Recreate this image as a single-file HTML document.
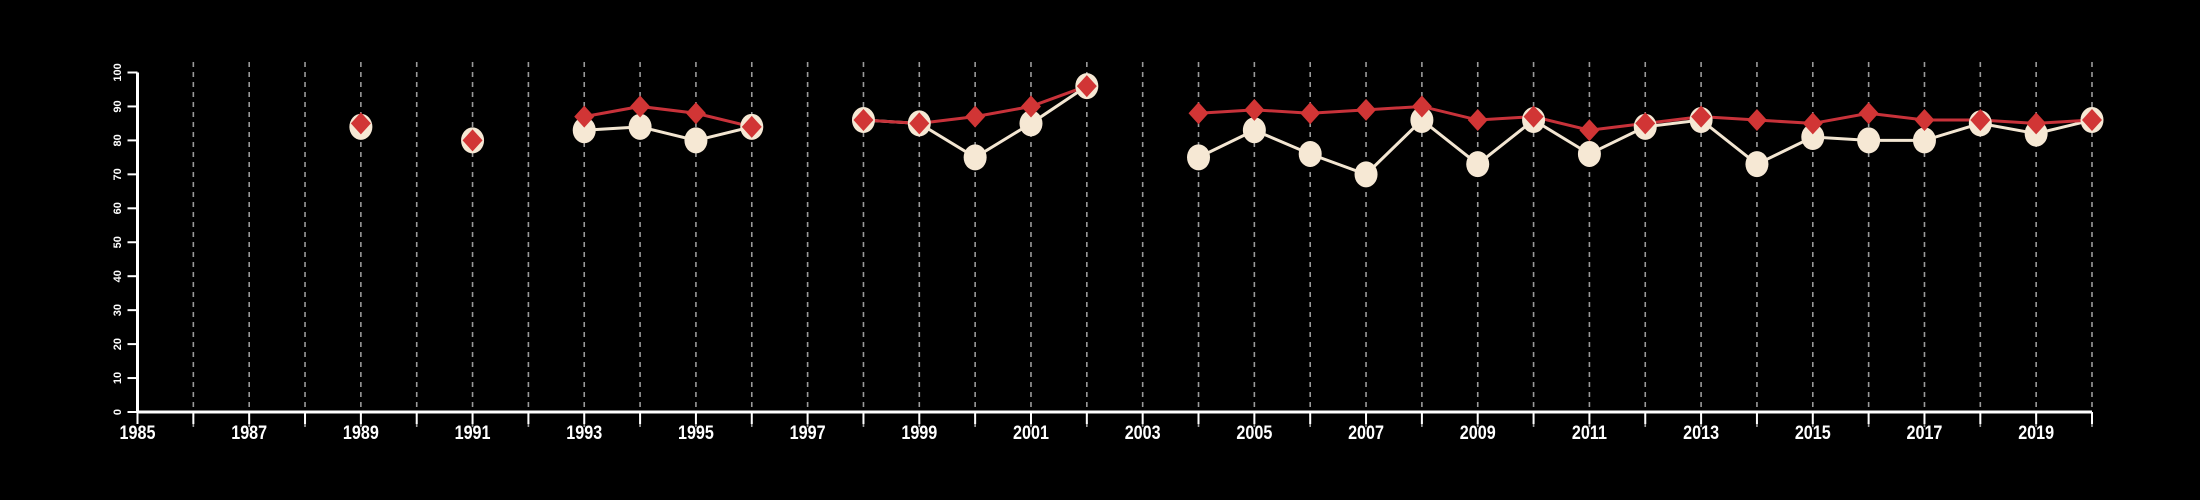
<!DOCTYPE html>
<html><head><meta charset="utf-8"><style>
html,body{margin:0;padding:0;background:#000;}
svg{display:block;font-family:"Liberation Sans",sans-serif;}
</style></head><body>
<svg id="chart" width="2200" height="500" viewBox="0 0 2200 500"></svg>
<script>
const years=[1989,1991,1993,1994,1995,1996,1998,1999,2000,2001,2002,2004,2005,2006,2007,2008,2009,2010,2011,2012,2013,2014,2015,2016,2017,2018,2019,2020];
const seriesA=[84,80,83,84,80,84,86,85,75,85,96,75,83,76,70,86,73,86,76,84,86,73,81,80,80,85,82,86];
const seriesB=[85,80,87,90,88,84,86,85,87,90,96,88,89,88,89,90,86,87,83,85,87,86,85,88,86,86,85,86];
const yTicks=[0,10,20,30,40,50,60,70,80,90,100];
const xLabels=[1985,1987,1989,1991,1993,1995,1997,1999,2001,2003,2005,2007,2009,2011,2013,2015,2017,2019];
const NS="http://www.w3.org/2000/svg";
const svg=document.getElementById('chart');
const X0=137.5,X1=2092,Y0=412,Y1=72.5;
const xs=y=>X0+(y-1985)*(X1-X0)/35;
const ys=v=>Y0-v*(Y0-Y1)/100;
function mk(t,a,p){const e=document.createElementNS(NS,t);for(const k in a)e.setAttribute(k,a[k]);(p||svg).appendChild(e);return e;}
// grid
for(let y=1986;y<=2020;y++){
  const g=mk('line',{x1:xs(y),x2:xs(y),y1:62,y2:428,stroke:'#9a9a9a','stroke-width':1.6,'stroke-dasharray':'5,5'});
  
  
}
// axes
const xa=mk('line',{x1:X0,x2:X1,y1:Y0,y2:Y0,stroke:'#fff','stroke-width':3});


for(let y=1985;y<=2020;y++){
  const t=mk('line',{x1:xs(y),x2:xs(y),y1:Y0,y2:Y0+12,stroke:'#fff','stroke-width':2});
  
  
}
xLabels.forEach(y=>{
  const t=mk('text',{x:xs(y),y:439,fill:'#fff','font-size':19,'font-weight':'bold','text-anchor':'middle',transform:`translate(${xs(y)},0) scale(0.85,1) translate(${-xs(y)},0)`});
  t.textContent=y;
  
  
});
const ya=mk('line',{x1:X0,x2:X0,y1:Y1,y2:Y0,stroke:'#fff','stroke-width':3});


yTicks.forEach(v=>{
  const t=mk('line',{x1:X0-10,x2:X0,y1:ys(v),y2:ys(v),stroke:'#fff','stroke-width':2});
  
  
  const l=mk('text',{x:0,y:0,fill:'#fff','font-size':11,'font-weight':'bold','text-anchor':'middle',transform:`translate(121,${ys(v)}) rotate(-90)`});
  l.textContent=v;
  
  
});
// lines with breaks
function segs(vals,color,name){
  let d='';
  for(let i=0;i<years.length;i++){
    const cont=i>0&&years[i]-years[i-1]===1;
    d+=(cont?'L':'M')+xs(years[i])+','+ys(vals[i]);
  }
  const p=mk('path',{d:d,fill:'none',stroke:color,'stroke-width':3});
  
  
}
segs(seriesA,'#f3e6d2','series-a-line');
segs(seriesB,'#c8323a','series-b-line');
years.forEach((y,i)=>{
  const c=mk('ellipse',{cx:xs(y),cy:ys(seriesA[i]),rx:11.5,ry:13,fill:'#f6e8d4'});
  
  
});
years.forEach((y,i)=>{
  const cx=xs(y),cy=ys(seriesB[i]);
  const d=mk('polygon',{points:`${cx},${cy-11} ${cx+10},${cy} ${cx},${cy+11} ${cx-10},${cy}`,fill:'#d13535'});
  
  
});
</script>
</body></html>
